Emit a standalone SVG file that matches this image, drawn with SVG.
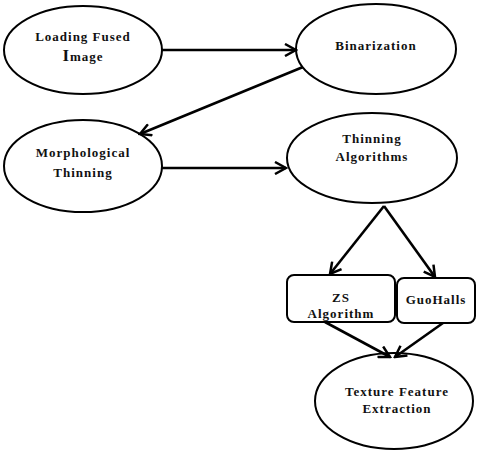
<svg xmlns="http://www.w3.org/2000/svg" width="480" height="455" viewBox="0 0 480 455">
<defs>
<marker id="ah" markerWidth="14" markerHeight="14" refX="12" refY="7" orient="auto" markerUnits="userSpaceOnUse">
<path d="M1,1 L12,7 L1,13" fill="none" stroke="#000" stroke-width="2.5"/>
</marker>
<style>
.n{fill:#fff;stroke:#000;stroke-width:2}
.t{font-weight:bold;font-size:13px;letter-spacing:1px;text-anchor:middle;fill:#111}
.c line{stroke:#000;stroke-width:2.6;marker-end:url(#ah)}
</style>
</defs>
<rect width="480" height="455" fill="#fff"/>
<g font-family="'Liberation Serif', 'Times New Roman', serif">
<g id="n1"><ellipse class="n" cx="83" cy="50" rx="79" ry="44"/>
<text class="t" x="83" y="41">Loading Fused</text>
<text class="t" x="83" y="61"><tspan font-size="17">I</tspan>mage</text></g>
<g id="n2"><ellipse class="n" cx="376" cy="49" rx="80" ry="45"/>
<text class="t" x="376" y="50">Binarization</text></g>
<g id="n3"><ellipse class="n" cx="83" cy="166" rx="79" ry="46"/>
<text class="t" x="83" y="157">Morphological</text>
<text class="t" x="83" y="177">Thinning</text></g>
<g id="n4"><ellipse class="n" cx="372" cy="158" rx="85" ry="45"/>
<text class="t" x="372" y="143">Thinning</text>
<text class="t" x="372" y="161">Algorithms</text></g>
<g id="n5"><rect class="n" x="287" y="275" width="108" height="47" rx="7"/>
<text class="t" x="341" y="302">ZS</text>
<text class="t" x="341" y="318">Algorithm</text></g>
<g id="n6"><rect class="n" x="397" y="278" width="78" height="45" rx="7"/>
<text class="t" x="436" y="304">GuoHalls</text></g>
<g id="n7"><ellipse class="n" cx="394" cy="401" rx="79" ry="48"/>
<text class="t" x="397" y="396">Texture Feature</text>
<text class="t" x="397" y="413">Extraction</text></g>
</g>
<g class="c" id="connectors">
<line x1="162" y1="50" x2="296" y2="50"/>
<line x1="303" y1="67" x2="140" y2="134"/>
<line x1="162" y1="168" x2="286" y2="168"/>
<line x1="384" y1="206" x2="330" y2="274"/>
<line x1="384" y1="206" x2="435" y2="277"/>
<line x1="325" y1="322" x2="390" y2="357"/>
<line x1="443" y1="323" x2="395" y2="357"/>
</g>
</svg>
